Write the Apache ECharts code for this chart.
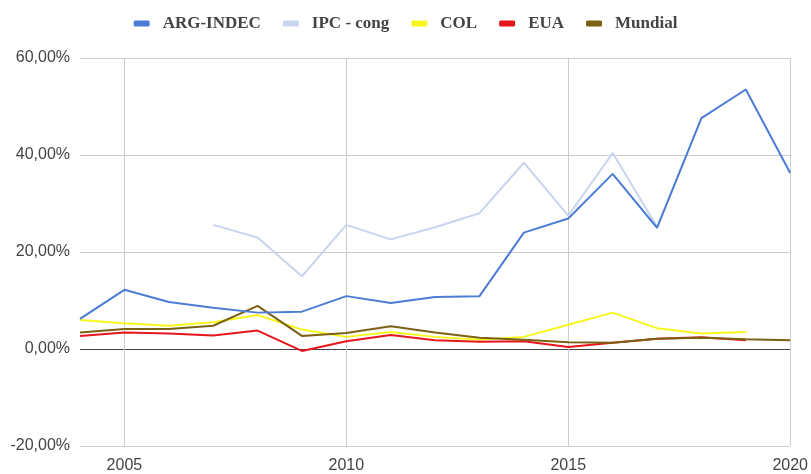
<!DOCTYPE html>
<html><head><meta charset="utf-8">
<script src="https://cdn.jsdelivr.net/npm/echarts@6/dist/echarts.min.js"></script>
<style>html,body{margin:0;padding:0;background:#fff}#c{width:811px;height:474px}</style>
</head><body><div id="c"></div>
<script>
const years = ['2004','2005','2006','2007','2008','2009','2010','2011','2012','2013','2014','2015','2016','2017','2018','2019','2020'];
const argIndec = [6.2, 12.2, 9.7, 8.5, 7.5, 7.7, 10.9, 9.5, 10.7, 10.9, 24.0, 26.9, 36.1, 25.0, 47.6, 53.5, 36.3];
const ipcCong  = [null, null, null, 25.6, 23.0, 15.0, 25.6, 22.6, 25.1, 28.0, 38.4, 27.5, 40.4, 25.2, null, null, null];
const col      = [6.0, 5.3, 4.8, 5.5, 7.0, 4.0, 2.5, 3.5, 2.5, 1.9, 2.5, 5.0, 7.5, 4.3, 3.2, 3.5, null];
const eua      = [2.7, 3.4, 3.2, 2.8, 3.8, -0.4, 1.6, 2.9, 1.8, 1.5, 1.6, 0.4, 1.3, 2.1, 2.4, 1.8, null];
const mundial  = [3.4, 4.1, 4.1, 4.8, 8.9, 2.7, 3.3, 4.7, 3.4, 2.3, 1.9, 1.4, 1.3, 2.1, 2.3, 2.0, 1.8];
const seriesNames = ['ARG-INDEC', 'IPC - cong', 'COL', 'EUA', 'Mundial'];
const yTicks = [-20, 0, 20, 40, 60];

const colors = ['#4d7cd6', '#c9d4ee', '#f7f71e', '#e5161c', '#7b6114'];
const data = [argIndec, ipcCong, col, eua, mundial];
const chart = echarts.init(document.getElementById('c'), null, {renderer: 'canvas'});
const yearTick = (i, v) => Number(v) % 5 === 0;
chart.setOption({
  animation: false,
  color: colors,
  legend: {
    top: 10, left: 'center',
    itemWidth: 16, itemHeight: 6, itemGap: 22,
    icon: 'roundRect',
    textStyle: {fontFamily: 'Liberation Serif', fontSize: 17, fontWeight: 'bold', color: '#444', padding: [0,0,0,8]},
    data: seriesNames
  },
  grid: {left: 80, right: 20, top: 58, bottom: 28, containLabel: false},
  xAxis: {
    type: 'category', data: years, boundaryGap: false,
    axisLine: {show: false}, axisTick: {show: false},
    axisLabel: {interval: yearTick, margin: 12, fontFamily: 'Liberation Sans', fontSize: 16, color: '#444'},
    splitLine: {show: true, interval: yearTick, lineStyle: {color: '#cccccc', width: 1}}
  },
  yAxis: {
    type: 'value', min: yTicks[0], max: yTicks[yTicks.length-1], interval: 20,
    axisLine: {show: false}, axisTick: {show: false},
    axisLabel: {margin: 10, fontFamily: 'Liberation Sans', fontSize: 16, color: '#444',
      formatter: v => v.toFixed(2).replace('.', ',') + '%'},
    splitLine: {lineStyle: {color: ['#cccccc', '#444444', '#cccccc', '#cccccc', '#cccccc'], width: 1}}
  },
  series: seriesNames.map((n, i) => ({
    name: n, type: 'line', data: data[i], showSymbol: false, symbol: 'none',
    connectNulls: false, z: i === 0 ? 5 : 2,
    lineStyle: {width: 2, color: colors[i]}
  }))
});
</script></body></html>
